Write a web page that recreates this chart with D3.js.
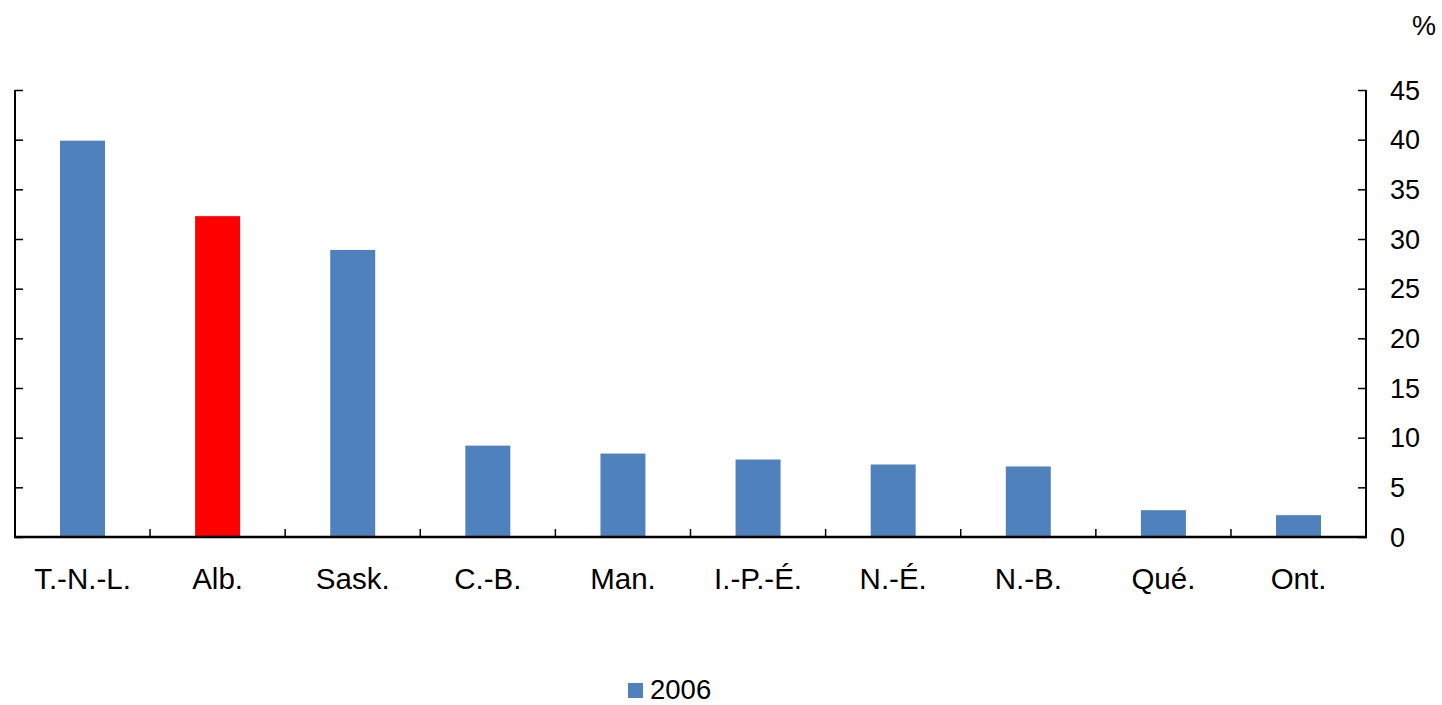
<!DOCTYPE html>
<html><head><meta charset="utf-8">
<script src="https://cdn.jsdelivr.net/npm/d3@7"></script>
<style>body{margin:0;background:#fff}svg{display:block}text{font-family:"Liberation Sans",Arial,sans-serif;fill:#000}</style>
</head><body>
<svg id="c" width="1442" height="705"></svg>
<script>
const categories = ["T.-N.-L.","Alb.","Sask.","C.-B.","Man.","I.-P.-É.","N.-É.","N.-B.","Qué.","Ont."];
const values = [39.9, 32.3, 28.9, 9.2, 8.4, 7.8, 7.3, 7.1, 2.7, 2.2];
const highlight = ["Alb."];
const yTicks = [0,5,10,15,20,25,30,35,40,45];
const seriesName = "2006";

const svg = d3.select("#c");
const L = 15, R = 1366, T = 90, B = 537;
const x = d3.scaleBand().domain(categories).range([L, R]).paddingInner(0.667).paddingOuter(0.333);
const y = d3.scaleLinear().domain([0,45]).range([B, T]);

svg.selectAll("rect.bar").data(values).join("rect")
  .attr("x",(d,i)=>x(categories[i])).attr("width",x.bandwidth())
  .attr("y",d=>y(d)).attr("height",d=>B-y(d))
  .attr("fill",(d,i)=>highlight.includes(categories[i])?"#FF0000":"#4F81BD");

// left axis (no labels, inward ticks)
const la = svg.append("g").attr("transform",`translate(${L},0)`)
  .call(d3.axisRight(y).tickValues(yTicks).tickSize(8).tickFormat(""));
la.select(".domain").remove();
la.selectAll("line").attr("stroke","#000").attr("stroke-width",1.5);
svg.append("line").attr("x1",L).attr("x2",L).attr("y1",T).attr("y2",B).attr("stroke","#000").attr("stroke-width",2);

// right axis
const ra = svg.append("g").attr("transform",`translate(${R},0)`)
  .call(d3.axisLeft(y).tickValues(yTicks).tickSize(8).tickFormat(""));
ra.select(".domain").remove();
ra.selectAll("line").attr("stroke","#000").attr("stroke-width",1.5);
svg.append("line").attr("x1",R).attr("x2",R).attr("y1",T).attr("y2",B).attr("stroke","#000").attr("stroke-width",2);
svg.selectAll("text.yl").data(yTicks).join("text").attr("class","yl")
  .attr("x",1390).attr("y",d=>y(d)+9.5).attr("font-size",27).text(d=>d);
svg.append("text").attr("x",1412).attr("y",35).attr("font-size",27).text("%");

// bottom axis
const step = x.step();
const ba = svg.append("g").attr("transform",`translate(0,${B})`)
  .call(d3.axisBottom(x).tickSize(0).tickPadding(31));
ba.select(".domain").remove();
ba.selectAll("text").attr("font-size",29.5).attr("font-family","Liberation Sans, Arial, sans-serif").attr("fill","#000");
svg.selectAll("line.ct").data(categories.slice(1)).join("line").attr("class","ct")
  .attr("x1",d=>x(d)-x.paddingInner()*step/2).attr("x2",d=>x(d)-x.paddingInner()*step/2)
  .attr("y1",B).attr("y2",B-8).attr("stroke","#000").attr("stroke-width",1.5);
svg.append("line").attr("x1",L-1).attr("x2",R+1).attr("y1",B).attr("y2",B).attr("stroke","#000").attr("stroke-width",2.5);

// legend
svg.append("rect").attr("x",628).attr("y",683).attr("width",15).attr("height",15).attr("fill","#4F81BD");
svg.append("text").attr("x",650).attr("y",699).attr("font-size",27.5).text(seriesName);
</script>
</body></html>
